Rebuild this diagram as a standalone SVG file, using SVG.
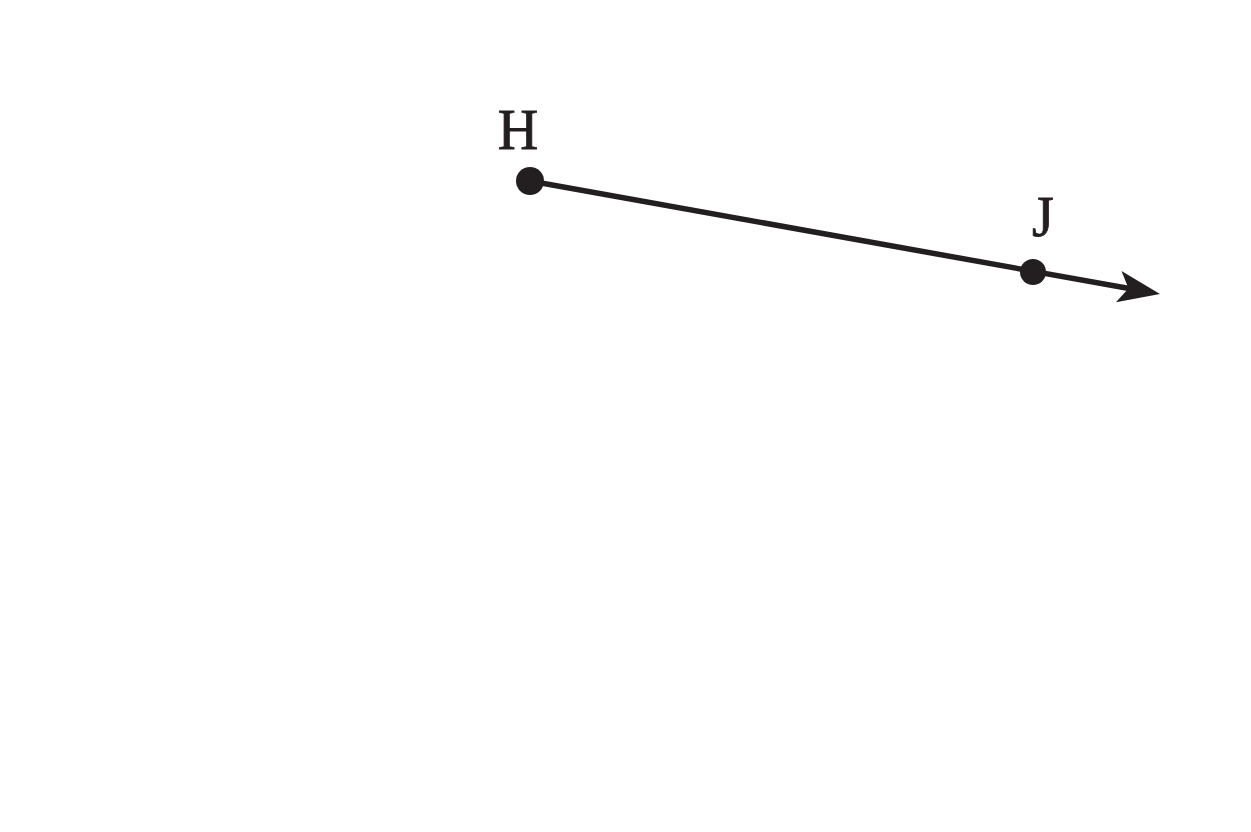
<svg xmlns="http://www.w3.org/2000/svg" width="1251" height="832" viewBox="0 0 1251 832">
<style>
.lbl{font-family:"Liberation Serif","Times New Roman",serif;font-size:56px;fill:#231f20;text-anchor:middle;stroke:#231f20;stroke-width:0.8}
.pt{fill:#231f20}
.ray{stroke:#231f20;stroke-width:5.5;fill:none}
.head{fill:#231f20}
</style>
<rect width="1251" height="832" fill="#fff"/>
<g id="connectors">
<line class="ray" x1="530" y1="181" x2="1132" y2="289"/>
<polygon class="head" points="1160,294 1121.5,270.9 1128.5,288.4 1115.9,302.3"/>
</g>
<g id="H">
<circle class="pt" cx="530" cy="181" r="14"/>
<text class="lbl" x="518" y="149">H</text>
</g>
<g id="J">
<circle class="pt" cx="1033" cy="272" r="13"/>
<text class="lbl" x="1043" y="236">J</text>
</g>
</svg>
